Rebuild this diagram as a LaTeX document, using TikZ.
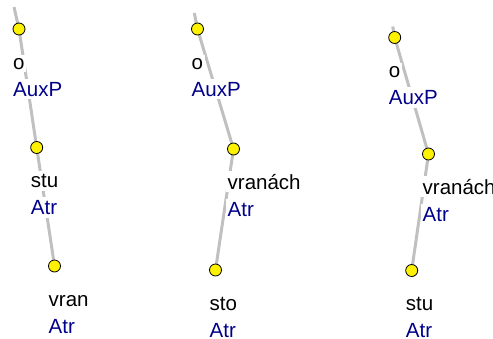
\documentclass[tikz,border=0pt]{standalone}
\usepackage{fontspec}
\setmainfont{Liberation Sans}
\usetikzlibrary{backgrounds}
\definecolor{afunc}{RGB}{0,0,139}
\definecolor{edgegray}{RGB}{192,192,192}
\begin{document}
\begin{tikzpicture}[x=1pt,y=-1pt,
  tnode/.style={circle,draw=black,line width=0.8pt,fill=yellow,minimum size=12pt,inner sep=0pt},
  edgeline/.style={draw=edgegray,line width=3pt},
  word/.style={anchor=base west,fill=white,inner xsep=1.5pt,inner ysep=3pt,font=\fontsize{20.5}{24}\selectfont,text=black},
  afun/.style={word,text=afunc}]
\useasboundingbox (0,0) rectangle (493,338);
\clip (0,0) rectangle (493,338);
% tree 1
\coordinate (p1) at (14,7);
\node[tnode] (a1) at (19,29) {};
\node[tnode] (b1) at (36.7,147.5) {};
\node[tnode] (c1) at (54.5,266) {};
% tree 2
\coordinate (p2) at (194.3,13);
\node[tnode] (a2) at (197.5,29) {};
\node[tnode] (b2) at (233.5,149) {};
\node[tnode] (c2) at (215.5,270) {};
% tree 3
\coordinate (p3) at (392.7,26.5);
\node[tnode] (a3) at (394.7,37.5) {};
\node[tnode] (b3) at (428.5,154) {};
\node[tnode] (c3) at (411.7,270.5) {};
% labels
\node[word] (a1w) at ([shift={(-7.5,40)}]a1.center) {o};
\node[afun] (a1f) at ([shift={(-7.5,67)}]a1.center) {AuxP};
\node[word] (b1w) at ([shift={(-7.5,40)}]b1.center) {stu};
\node[afun] (b1f) at ([shift={(-7.5,67)}]b1.center) {Atr};
\node[word] (c1w) at ([shift={(-7.5,40)}]c1.center) {vran};
\node[afun] (c1f) at ([shift={(-7.5,67)}]c1.center) {Atr};
\node[word] (a2w) at ([shift={(-7.5,40)}]a2.center) {o};
\node[afun] (a2f) at ([shift={(-7.5,67)}]a2.center) {AuxP};
\node[word] (b2w) at ([shift={(-7.5,40)}]b2.center) {vranách};
\node[afun] (b2f) at ([shift={(-7.5,67)}]b2.center) {Atr};
\node[word] (c2w) at ([shift={(-7.5,40)}]c2.center) {sto};
\node[afun] (c2f) at ([shift={(-7.5,67)}]c2.center) {Atr};
\node[word] (a3w) at ([shift={(-7.5,40)}]a3.center) {o};
\node[afun] (a3f) at ([shift={(-7.5,67)}]a3.center) {AuxP};
\node[word] (b3w) at ([shift={(-7.5,40)}]b3.center) {vranách};
\node[afun] (b3f) at ([shift={(-7.5,67)}]b3.center) {Atr};
\node[word] (c3w) at ([shift={(-7.5,40)}]c3.center) {stu};
\node[afun] (c3f) at ([shift={(-7.5,67)}]c3.center) {Atr};
% edges
\begin{scope}[on background layer]
\draw[edgeline] (p1) -- (a1.center) -- (b1.center) -- (c1.center);
\draw[edgeline] (p2) -- (a2.center) -- (b2.center) -- (c2.center);
\draw[edgeline] (p3) -- (a3.center) -- (b3.center) -- (c3.center);
\end{scope}
\end{tikzpicture}
\end{document}
